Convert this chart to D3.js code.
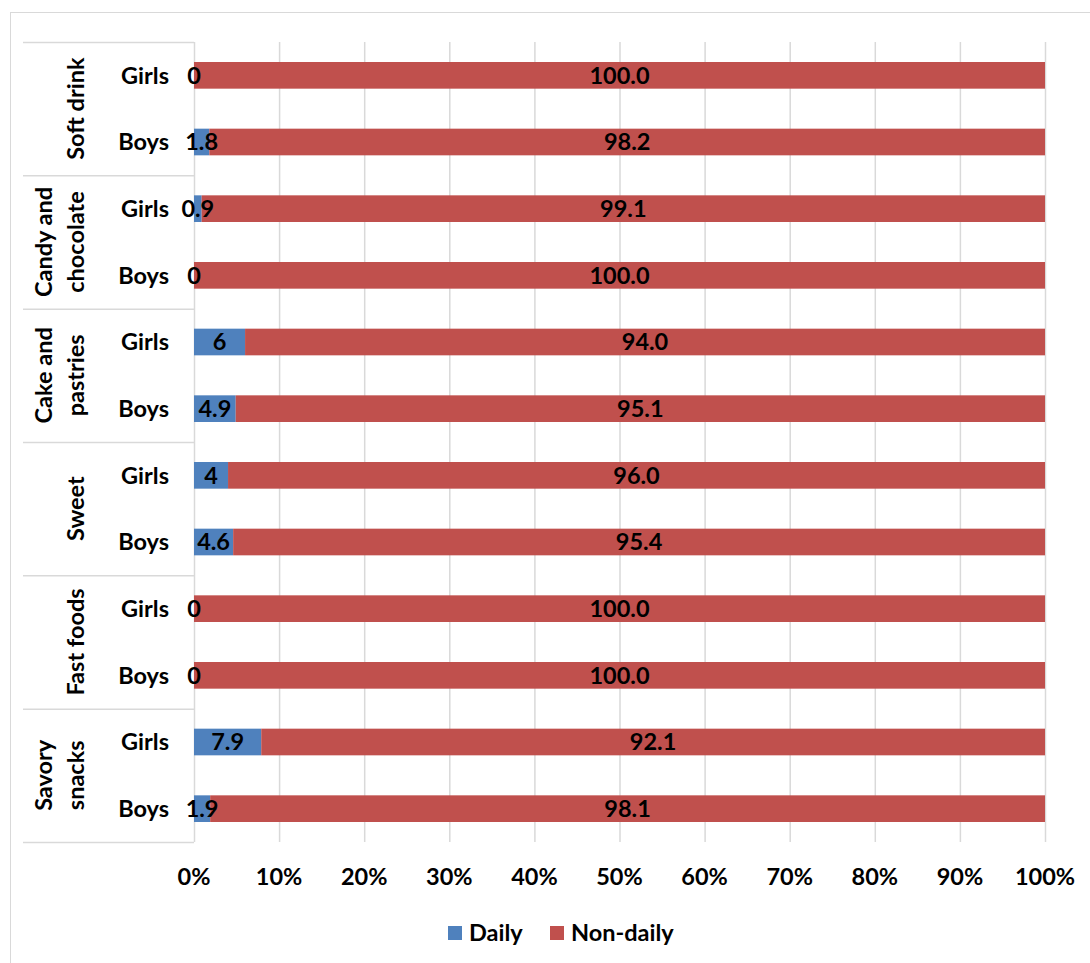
<!DOCTYPE html>
<html><head><meta charset="utf-8">
<script src="https://cdn.jsdelivr.net/npm/d3@7"></script>
<style>
body{margin:0;background:#fff;}
text{font-family:Lato,"Open Sans",sans-serif;font-weight:bold;fill:#000;}
</style></head>
<body><svg id="c" width="1090" height="963"></svg>
<script>
const groups = [["Soft drink"], ["Candy and","chocolate"], ["Cake and","pastries"], ["Sweet"], ["Fast foods"], ["Savory","snacks"]];
const genders = ["Girls","Boys"];
const dailyValues    = [0, 1.8, 0.9, 0, 6, 4.9, 4, 4.6, 0, 0, 7.9, 1.9];
const nonDailyValues = [100.0, 98.2, 99.1, 100.0, 94.0, 95.1, 96.0, 95.4, 100.0, 100.0, 92.1, 98.1];
const tickValues = [0,10,20,30,40,50,60,70,80,90,100];
const seriesNames = ["Daily","Non-daily"];
const colors = ["#4f81bd","#c0504d"];

const svg = d3.select("#c");
svg.append("rect").attr("x",10.5).attr("y",12.5).attr("width",1100).attr("height",1000)
  .attr("fill","none").attr("stroke","#d9d9d9");

const rows = d3.range(dailyValues.length);
const x = d3.scaleLinear().domain([0,100]).range([194,1045]);
const y = d3.scaleBand().domain(rows).range([42,842]).paddingInner(0.6).paddingOuter(0.3);
const step = y.step();

// gridlines
svg.append("g").selectAll("line").data(tickValues).join("line")
  .attr("x1",d=>x(d)+0.5).attr("x2",d=>x(d)+0.5).attr("y1",42).attr("y2",842)
  .attr("stroke","#d9d9d9").attr("stroke-width",1.5);

// group separators
const gsep = d3.range(groups.length+1).map(i=>42+i*2*step);
svg.append("g").selectAll("line").data(gsep).join("line")
  .attr("x1",23).attr("x2",194).attr("y1",d=>d+0.5).attr("y2",d=>d+0.5)
  .attr("stroke","#d9d9d9").attr("stroke-width",1.5);

// bars
const stacked = rows.map(i=>({i, d:dailyValues[i], n:nonDailyValues[i]}));
const barG = svg.append("g");
barG.selectAll("rect.d").data(stacked).join("rect").attr("class","d")
  .attr("x",x(0)).attr("y",d=>y(d.i)).attr("height",y.bandwidth())
  .attr("width",d=>x(d.d)-x(0)).attr("fill",colors[0]);
barG.selectAll("rect.n").data(stacked).join("rect").attr("class","n")
  .attr("x",d=>x(d.d)).attr("y",d=>y(d.i)).attr("height",y.bandwidth())
  .attr("width",d=>x(d.d+d.n)-x(d.d)).attr("fill",colors[1]);

// value labels
const fs = 23.5;
barG.selectAll("text.dl").data(stacked).join("text").attr("class","dl")
  .attr("x",d=>x(d.d/2)).attr("y",d=>y(d.i)+y.bandwidth()/2).attr("dy","0.36em")
  .attr("text-anchor","middle").attr("font-size",fs).text(d=>String(d.d));
barG.selectAll("text.nl").data(stacked).join("text").attr("class","nl")
  .attr("x",d=>x(d.d+d.n/2)).attr("y",d=>y(d.i)+y.bandwidth()/2).attr("dy","0.36em")
  .attr("text-anchor","middle").attr("font-size",fs).text(d=>d.n.toFixed(1));

// gender labels
svg.append("g").selectAll("text").data(rows).join("text")
  .attr("x",169).attr("y",d=>y(d)+y.bandwidth()/2).attr("dy","0.36em")
  .attr("text-anchor","end").attr("font-size",fs).text(d=>genders[d%2]);

// group labels (rotated)
groups.forEach((lines,gi)=>{
  const cy = 42 + (gi*2+1)*step;
  const t = svg.append("text").attr("transform",`translate(0,${cy}) rotate(-90)`)
    .attr("text-anchor","middle").attr("font-size",fs);
  lines.forEach((ln,li)=>{
    const baseX = 84 - (lines.length-1-li)*32;
    t.append("tspan").attr("x",0).attr("y",baseX).text(ln);
  });
});

// x axis labels
svg.append("g").selectAll("text").data(tickValues).join("text")
  .attr("x",d=>x(d)).attr("y",885).attr("text-anchor","middle").attr("font-size",fs)
  .text(d=>d+"%");

// legend
const leg = svg.append("g");
const legX = [448, 550];
seriesNames.forEach((s,i)=>{
  leg.append("rect").attr("x",legX[i]).attr("y",926).attr("width",14).attr("height",14).attr("fill",colors[i]);
  leg.append("text").attr("x",legX[i]+21).attr("y",941).attr("font-size",fs).text(s);
});
</script></body></html>
